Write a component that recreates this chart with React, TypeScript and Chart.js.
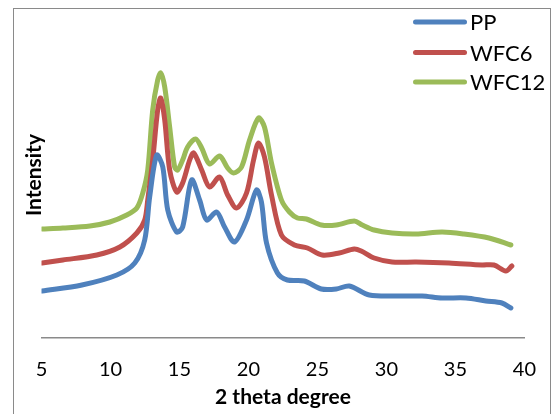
import React, { useEffect, useRef } from "react";
import { Chart, registerables } from "chart.js";

Chart.register(...registerables);

const FONT = "Lato, 'Open Sans', sans-serif";

const xTickStep = 5;
const xMin = 5;
const xMax = 40;
const xTitle = "2 theta degree";
const yTitle = "Intensity";

const seriesNames = ["PP", "WFC6", "WFC12"];
const seriesColors = ["#4F81BD", "#C0504D", "#9BBB59"];

const ppTheta = [5.04, 7.93, 10.46, 11.76, 12.48, 12.84, 13.35, 13.79, 14.15, 14.8, 15.23, 15.88, 16.46, 16.97, 17.69, 18.27, 18.99, 19.86, 20.58, 20.94, 21.31, 22.1, 22.82, 24.05, 25.28, 26.37, 27.31, 28.76, 30.92, 32.59, 34.03, 35.77, 37.21, 38.37, 39.02];
const ppIntensity = [47, 53, 63, 75, 98, 141, 183, 171, 128, 106, 111, 158, 138, 118, 126, 111, 96, 118, 148, 136, 95, 65, 58, 57, 49, 49, 52, 43, 42, 42, 40, 40, 37, 35, 30];

const wfc6Theta = [5.04, 6.55, 9.01, 10.68, 11.91, 12.48, 12.7, 13.06, 13.42, 13.64, 13.93, 14.29, 14.8, 15.23, 15.74, 16.03, 16.61, 17.18, 17.91, 18.49, 19.14, 19.86, 20.37, 20.73, 21.16, 21.67, 22.39, 23.33, 24.27, 25.35, 26.58, 27.67, 28.17, 29.11, 30.41, 32.15, 34.54, 36.92, 37.79, 38.66, 39.09];
const wfc6Intensity = [75, 78, 83, 91, 105, 118, 138, 178, 228, 240, 218, 168, 146, 155, 178, 185, 168, 151, 161, 143, 130, 145, 178, 195, 181, 143, 103, 93, 90, 83, 85, 89, 87, 80, 76, 76, 75, 73, 73, 67, 72];

const wfc12Theta = [5.04, 6.55, 8.51, 9.95, 11.18, 11.91, 12.34, 12.7, 13.06, 13.42, 13.64, 13.93, 14.29, 14.65, 14.87, 15.23, 15.59, 16.17, 16.61, 17.18, 17.91, 18.49, 18.92, 19.5, 20.08, 20.73, 21.16, 21.67, 22.39, 22.97, 23.55, 24.2, 25.28, 26.37, 27.67, 28.25, 29.11, 30.41, 32.15, 34.03, 35.62, 37.43, 39.02];
const wfc12Intensity = [109, 110, 112, 116, 123, 130, 145, 168, 228, 258, 265, 251, 211, 171, 168, 178, 191, 199, 190, 174, 182, 170, 165, 171, 198, 220, 211, 175, 138, 126, 120, 119, 113, 113, 117, 113, 108, 105, 104, 106, 104, 100, 93];

const thetaSets = [ppTheta, wfc6Theta, wfc12Theta];
const intensitySets = [ppIntensity, wfc6Intensity, wfc12Intensity];

const frameAndLegend = {
  id: "frameAndLegend",
  afterDraw(chart: any) {
    const ctx = chart.ctx;
    ctx.save();
    // outer chart frame
    ctx.strokeStyle = "#8a8a8a";
    ctx.lineWidth = 1;
    ctx.strokeRect(13.5, 8.5, 537, 430);
    // legend
    const lx0 = 415.5;
    const lx1 = 464.5;
    const ly = [22, 52.5, 82];
    chart.data.datasets.forEach((ds: any, i: number) => {
      ctx.beginPath();
      ctx.strokeStyle = ds.borderColor;
      ctx.lineWidth = 5;
      ctx.lineCap = "round";
      ctx.moveTo(lx0, ly[i]);
      ctx.lineTo(lx1, ly[i]);
      ctx.stroke();
      ctx.fillStyle = "#000";
      ctx.font = `22px ${FONT}`;
      ctx.textBaseline = "middle";
      ctx.textAlign = "left";
      ctx.fillText(ds.label, 470, ly[i] + 1);
    });
    ctx.restore();
  },
};

export default function App() {
  const canvasRef = useRef<HTMLCanvasElement | null>(null);

  useEffect(() => {
    if (!canvasRef.current) return;
    const datasets = seriesNames.map((name, i) => ({
      label: name,
      data: thetaSets[i].map((t, j) => ({ x: t, y: intensitySets[i][j] })),
      borderColor: seriesColors[i],
      backgroundColor: seriesColors[i],
      borderWidth: 5,
      pointRadius: 0,
      tension: 0.3,
      borderCapStyle: "round" as const,
      borderJoinStyle: "round" as const,
      fill: false,
    }));
    const chart = new Chart(canvasRef.current, {
      type: "line",
      data: { datasets },
      options: {
        animation: false,
        responsive: false,
        maintainAspectRatio: false,
        layout: { padding: { top: 12, left: 0, right: 30.5, bottom: 0 } },
        plugins: { legend: { display: false }, tooltip: { enabled: false } },
        scales: {
          x: {
            type: "linear",
            min: xMin,
            max: xMax,
            ticks: {
              stepSize: xTickStep,
              color: "#000",
              font: { family: FONT, size: 20 },
              padding: 20,
            },
            grid: { display: false, drawTicks: false },
            border: { display: true, color: "#8a8a8a", width: 1.5 },
            title: {
              display: true,
              text: xTitle,
              color: "#000",
              font: { family: FONT, size: 21, weight: "bold" },
              padding: { top: 0, bottom: 4 },
            },
            afterFit(scale: any) {
              scale.height = 76;
            },
          },
          y: {
            min: 0,
            max: 326,
            ticks: { display: false },
            grid: { display: false, drawTicks: false },
            border: { display: false },
            title: {
              display: true,
              text: yTitle,
              color: "#000",
              font: { family: FONT, size: 21, weight: "bold" },
              padding: { top: 22, bottom: 0 },
            },
            afterFit(scale: any) {
              scale.width = 41.5;
            },
          },
        },
      },
      plugins: [frameAndLegend],
    });
    return () => chart.destroy();
  }, []);

  return (
    <div style={{ position: "fixed", left: 0, top: 0, width: 556, height: 414, background: "#fff" }}>
      <canvas ref={canvasRef} width={556} height={414} style={{ width: 556, height: 414, display: "block" }} />
    </div>
  );
}
